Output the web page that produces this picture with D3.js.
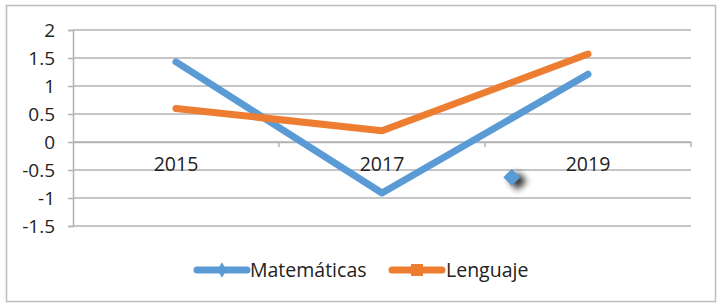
<!DOCTYPE html>
<html><head><meta charset="utf-8">
<script src="https://cdn.jsdelivr.net/npm/d3@7/dist/d3.min.js"></script>
<style>body{margin:0;background:#fff}svg{display:block}text{font-family:"Open Sans",sans-serif;fill:#222}</style>
</head><body><svg id="c" width="723" height="306"></svg>
<script>
const categories = ["2015", "2017", "2019"];
const matematicas = [1.43, -0.91, 1.21];
const lenguaje = [0.6, 0.2, 1.57];
const yTicks = [2, 1.5, 1, 0.5, 0, -0.5, -1, -1.5];
const yTickLabels = ["2", "1.5", "1", "0.5", "0", "-0.5", "-1", "-1.5"];
const seriesNames = ["Matemáticas", "Lenguaje"];
const seriesColors = ["#5B9BD5", "#ED7D31"];
const strayMarker = {pos: 1.63, value: -0.63};

const svg = d3.select("#c");
svg.append("rect").attr("x", 6.5).attr("y", 5.5).attr("width", 709).attr("height", 296)
  .attr("fill", "#fff").attr("stroke", "#bdbdbd").attr("stroke-width", 1.5);

const m = {l: 73, r: 691, t: 30, b: 226};
const x = d3.scaleBand().domain(categories).range([m.l, m.r]);
const y = d3.scaleLinear().domain([-1.5, 2]).range([m.b, m.t]);

// gridlines
svg.append("g").selectAll("line").data(yTicks).join("line")
  .attr("x1", m.l).attr("x2", m.r).attr("y1", d => y(d)).attr("y2", d => y(d))
  .attr("stroke", "#b3b3b3").attr("stroke-width", 1.5);

// y axis
const ya = svg.append("g").attr("transform", `translate(${m.l},0)`)
  .call(d3.axisLeft(y).tickValues(yTicks).tickFormat((d, i) => yTickLabels[i]).tickSize(5).tickPadding(13));
ya.select(".domain").attr("stroke", "#b3b3b3").attr("stroke-width", 1.5);
ya.selectAll(".tick line").attr("stroke", "#b3b3b3").attr("stroke-width", 1.5);
ya.selectAll("text").style("font-size", "19px").style("font-family", "'Open Sans',sans-serif").attr("fill", "#222");

// x axis at zero
const xa = svg.append("g").attr("transform", `translate(0,${y(0)})`)
  .call(d3.axisBottom(x).tickSize(0).tickPadding(15));
xa.select(".domain").attr("stroke", "#b3b3b3").attr("stroke-width", 1.5);
xa.selectAll("text").style("font-size", "19.5px").style("font-family", "'Open Sans',sans-serif").attr("fill", "#222");
svg.append("g").selectAll("line").data(categories).join("line")
  .attr("x1", d => x(d) + x.bandwidth()).attr("x2", d => x(d) + x.bandwidth())
  .attr("y1", y(0)).attr("y2", y(0) + 5).attr("stroke", "#b3b3b3").attr("stroke-width", 1.5);

// lines
const line = d3.line().x((d, i) => x(categories[i]) + x.bandwidth() / 2).y(d => y(d));
[matematicas, lenguaje].forEach((s, i) => {
  svg.append("path").datum(s).attr("d", line).attr("fill", "none")
    .attr("stroke", seriesColors[i]).attr("stroke-width", 7).attr("stroke-linecap", "round").attr("stroke-linejoin", "round");
});

// stray marker with shadow
const defs = svg.append("defs");
defs.append("filter").attr("id", "blur").attr("x", "-100%").attr("y", "-100%").attr("width", "300%").attr("height", "300%")
  .append("feGaussianBlur").attr("stdDeviation", 3);
const sx = x(categories[0]) + x.bandwidth() * (strayMarker.pos + 0.5), sy = y(strayMarker.value);
svg.append("rect").attr("x", sx - 6).attr("y", sy - 6).attr("width", 13).attr("height", 13)
  .attr("transform", `translate(6,3) rotate(45,${sx},${sy})`).attr("fill", "#222").attr("opacity", 0.9).attr("filter", "url(#blur)");
svg.append("rect").attr("x", sx - 6).attr("y", sy - 6).attr("width", 12).attr("height", 12)
  .attr("transform", `rotate(45,${sx},${sy})`).attr("fill", seriesColors[0]);

// legend
const lg = [{x0: 197, tx: 250}, {x0: 392, tx: 446}];
seriesNames.forEach((n, i) => {
  const g = svg.append("g");
  g.append("line").attr("x1", lg[i].x0).attr("x2", lg[i].x0 + 50).attr("y1", 270).attr("y2", 270)
    .attr("stroke", seriesColors[i]).attr("stroke-width", 7).attr("stroke-linecap", "round");
  const cx = lg[i].x0 + 25;
  if (i === 0) g.append("path").attr("d", d3.symbol(d3.symbolDiamond, 70)()).attr("transform", `translate(${cx},270)`).attr("fill", seriesColors[i]);
  else g.append("rect").attr("x", cx - 6).attr("y", 264).attr("width", 12).attr("height", 12).attr("fill", seriesColors[i]);
  g.append("text").attr("x", lg[i].tx).attr("y", 277).style("font-size", "19.5px").text(n);
});
</script></body></html>
